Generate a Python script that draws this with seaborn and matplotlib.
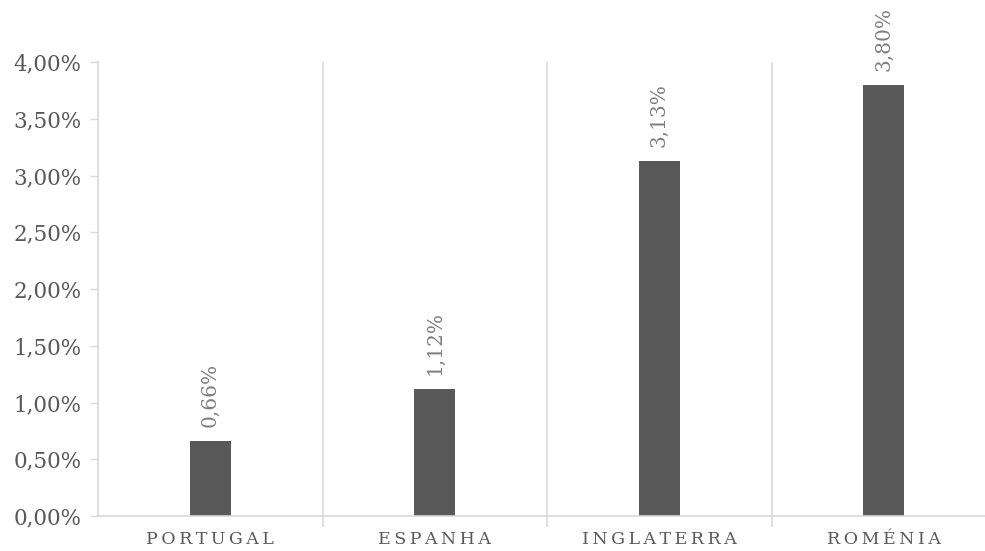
import pandas as pd
import matplotlib.pyplot as plt
from matplotlib.ticker import FuncFormatter, FixedLocator
import seaborn as sns

paises = ['PORTUGAL', 'ESPANHA', 'INGLATERRA', 'ROMÉNIA']
valores = [0.66, 1.12, 3.13, 3.80]

df = pd.DataFrame({'Pais': paises, 'Valor': valores})

sns.set_theme(style="white")
plt.rcParams['font.family'] = ['DejaVu Serif']

fig = plt.figure(figsize=(9.85, 5.51), dpi=100)
ax = fig.add_axes([98 / 985, (551 - 516) / 551, 898 / 985, 454 / 551])

sns.barplot(data=df, x='Pais', y='Valor', color='#595959', width=0.183,
            saturation=1, linewidth=0, ax=ax)

for i, v in enumerate(valores):
    ax.annotate(f'{v:.2f}%'.replace('.', ','), (i, v), xytext=(0, 10),
                textcoords='offset points', rotation=90, ha='center', va='bottom',
                color='#7f7f7f', fontsize=14.5)

ax.set_xlim(-0.5, 3.5)
ax.set_ylim(0, 4.0)
ax.set_yticks([0, 0.5, 1.0, 1.5, 2.0, 2.5, 3.0, 3.5, 4.0])
ax.yaxis.set_major_formatter(FuncFormatter(lambda v, p: f'{v:.2f}%'.replace('.', ',')))
ax.tick_params(axis='y', which='major', left=True, length=6, width=1, color='#d9d9d9',
               labelsize=15.5, labelcolor='#595959', pad=6)

# rótulos com espaçamento entre letras
ax.set_xticks(range(len(paises)))
ax.set_xticklabels(['\u2009'.join(p) for p in paises])

# separadores entre categorias
ax.xaxis.set_minor_locator(FixedLocator([0.5, 1.5, 2.5]))
ax.grid(axis='x', which='minor', color='#d9d9d9', linewidth=1.2)
ax.tick_params(axis='x', which='minor', bottom=True, length=8, width=1.2, color='#d9d9d9')
ax.tick_params(axis='x', which='major', bottom=False, length=0, labelsize=12.5,
               labelcolor='#595959', pad=11)

for s in ['top', 'right']:
    ax.spines[s].set_visible(False)
for s in ['left', 'bottom']:
    ax.spines[s].set_color('#d9d9d9')
    ax.spines[s].set_linewidth(1.2)

ax.set_xlabel('')
ax.set_ylabel('')

fig.savefig('out.png', dpi=100)
